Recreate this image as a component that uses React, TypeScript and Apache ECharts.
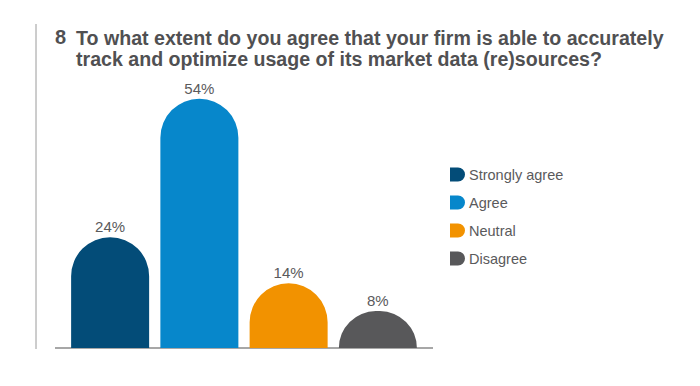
import React, { useEffect, useRef } from "react";
import * as echarts from "echarts";

const categories = ["Strongly agree", "Agree", "Neutral", "Disagree"];
const values = [24, 54, 14, 8];
const colors = ["#034C78", "#0787CB", "#F29200", "#58585A"];
const titleNumber = "8";
const titleLines = [
  "To what extent do you agree that your firm is able to accurately",
  "track and optimize usage of its market data (re)sources?",
];

export default function App() {
  const ref = useRef<HTMLDivElement>(null);
  useEffect(() => {
    if (!ref.current) return;
    const chart = echarts.init(ref.current, undefined, { renderer: "svg" });
    const series = categories.map((name, i) => ({
      name,
      type: "bar",
      barWidth: 78,
      barGap: "-100%",
      data: categories.map((_, j) => (j === i ? values[i] : "-")),
      itemStyle: { color: colors[i], borderRadius: [39, 39, 0, 0] },
      label: {
        show: true,
        position: "top",
        distance: 3,
        formatter: "{c}%",
        color: "#5A5A5C",
        fontSize: 15,
        fontFamily: "Liberation Sans, Arial, sans-serif",
      },
    }));
    chart.setOption({
      animation: false,
      grid: { left: 65.5, top: 71, width: 357, height: 277 },
      xAxis: {
        type: "category",
        data: categories,
        show: false,
      },
      yAxis: { type: "value", min: 0, max: 60, show: false },
      legend: {
        orient: "vertical",
        left: 445,
        top: 162,
        itemWidth: 15,
        itemHeight: 15,
        itemGap: 13,
        icon: "path://M0,0 H8 A7,7 0 0 1 8,14 H0 Z",
        textStyle: {
          color: "#5A5A5C",
          fontSize: 14.5,
          fontFamily: "Liberation Sans, Arial, sans-serif",
          padding: [0, 0, 0, -1],
        },
        data: categories,
      },
      graphic: [
        {
          type: "line",
          shape: { x1: 36, y1: 24, x2: 36, y2: 349 },
          style: { stroke: "#9A9A9A", lineWidth: 1 },
        },
        {
          type: "line",
          shape: { x1: 55, y1: 348, x2: 433, y2: 348 },
          style: { stroke: "#8A8A8A", lineWidth: 1.5 },
        },
        {
          type: "text",
          x: 55,
          y: 27,
          style: {
            text: titleNumber,
            fill: "#505052",
            font: "bold 20px Liberation Sans, Arial, sans-serif",
          },
        },
        {
          type: "text",
          x: 76,
          y: 27,
          style: {
            text: titleLines.join("\n"),
            fill: "#505052",
            font: "bold 19.6px Liberation Sans, Arial, sans-serif",
            lineHeight: 21,
          },
        },
      ],
      series,
    });
    return () => chart.dispose();
  }, []);
  return (
    <div
      ref={ref}
      style={{ position: "absolute", left: 0, top: 0, width: 700, height: 386 }}
    />
  );
}
